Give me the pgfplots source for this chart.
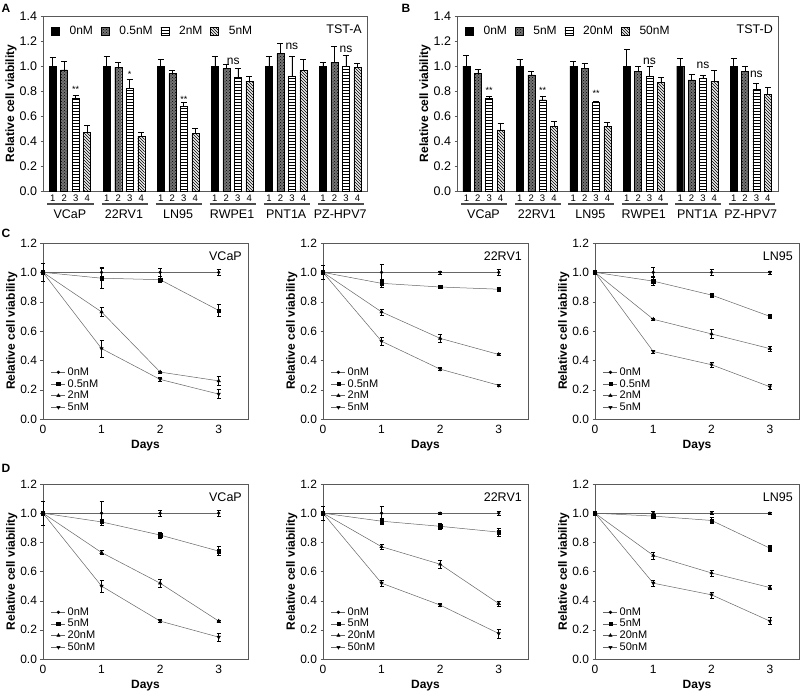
\documentclass[border=0pt]{standalone}
\usepackage{fontspec}
\setmainfont{Liberation Sans}
\usepackage{pgfplots}
\pgfplotsset{compat=1.18}
\usetikzlibrary{patterns}

\pgfplotsset{
  common/.style={
    scale only axis, anchor=south west, clip=false,
    /pgf/number format/assume math mode=true,
    axis line style={black!65, line width=0.7pt},
    tick align=outside, ytick pos=left, xtick pos=bottom,
    major tick length=2.5pt, tick style={black!65},
    xtick style={draw=none},
    ylabel={Relative cell viability},
    label style={font=\bfseries\fontsize{12}{12}\selectfont},
    ylabel style={yshift=-4pt},
  },
  barax/.style={
    common, height=175pt,
    ybar, bar width=7pt, bar shift=0pt,
    ymin=0, ymax=1.4,
    ytick={0,0.2,0.4,0.6,0.8,1.0,1.2,1.4},
    y tick label style={font=\fontsize{12.5}{13}\selectfont, /pgf/number format/fixed, /pgf/number format/fixed zerofill, /pgf/number format/precision=1},
    xtick={0,1,2,3,4.7,5.7,6.7,7.7,9.4,10.4,11.4,12.4,14.1,15.1,16.1,17.1,18.8,19.8,20.8,21.8,23.5,24.5,25.5,26.5},
    xticklabels={1,2,3,4,1,2,3,4,1,2,3,4,1,2,3,4,1,2,3,4,1,2,3,4},
    x tick label style={font=\fontsize{9.5}{9.5}\selectfont, inner sep=1.5pt},
    legend style={at={(0,1)}, anchor=north west, xshift=5pt, yshift=-6pt, draw=none, fill=none,
      font=\fontsize{12}{12}\selectfont,
      /tikz/every even column/.append style={column sep=6pt},
      /tikz/every odd column/.append style={column sep=8pt}},
    legend columns=4,
    legend image code/.code={\draw[#1] (0pt,-4pt) rectangle (8pt,4pt);},
  },
  b0/.style={fill=black, draw=black, bar shift=0pt},
  b1/.style={fill=black!55, draw=black, bar shift=0pt, postaction={pattern=crosshatch dots, pattern color=black}},
  b2/.style={fill=white, draw=black, bar shift=0pt, postaction={pattern=horizontal lines}},
  b3/.style={fill=black!8, draw=black, bar shift=0pt, postaction={pattern=north west lines}},
  errb/.style={error bars/y dir=plus, error bars/y explicit,
    error bars/error bar style={black, line width=0.6pt},
    error bars/error mark options={rotate=90, mark size=3pt, line width=0.6pt, black}},
  lineax/.style={
    common, height=176pt, width=205pt,
    xmin=0, xmax=3.5, ymin=0, ymax=1.2,
    xtick={0,1,2,3}, ytick={0,0.2,0.4,0.6,0.8,1.0,1.2},
    tick label style={font=\fontsize{12}{12}\selectfont},
    y tick label style={/pgf/number format/fixed, /pgf/number format/fixed zerofill, /pgf/number format/precision=1},
    xlabel={Days},
    legend style={at={(0,0)}, anchor=south west, xshift=5pt, yshift=3pt, draw=none, fill=none,
      font=\fontsize{11}{12}\selectfont, row sep=-1.5pt},
    legend cell align=left,
    legend image code/.code={\draw[mark repeat=2,mark phase=2,#1] plot coordinates {(0pt,0pt) (7pt,0pt) (14pt,0pt)};},
  },
  lbase/.style={black!60, line width=0.5pt,
    error bars/y dir=both, error bars/y explicit,
    error bars/error bar style={black, line width=0.5pt},
    error bars/error mark options={rotate=90, mark size=2pt, black, line width=0.5pt}},
  l0/.style={lbase, mark=*, mark size=1.4pt, mark options={black, fill=black}},
  l1/.style={lbase, mark=square*, mark size=1.7pt, mark options={black, fill=black}},
  l2/.style={lbase, mark=triangle*, mark size=1.9pt, mark options={black, fill=black}},
  l3/.style={lbase, mark=triangle*, mark size=1.9pt, mark options={black, fill=black, rotate=180}},
}

\newcommand{\grplabel}[4]{%
  \draw[black!70, line width=1.3pt] ([yshift=-13pt]axis cs:#1,0) -- ([yshift=-13pt]axis cs:#2,0);
  \node[anchor=base, font=\fontsize{12.5}{13}\selectfont, inner sep=0pt] at ([yshift=-27pt]axis cs:#3,0) {#4};
}
\newcommand{\allgroups}{%
  \grplabel{-0.45}{3.6}{1.5}{VCaP}
  \grplabel{4.25}{8.3}{6.2}{22RV1}
  \grplabel{8.95}{13.0}{10.9}{LN95}
  \grplabel{13.65}{17.7}{15.6}{RWPE1}
  \grplabel{18.35}{22.4}{20.3}{PNT1A}
  \grplabel{23.05}{27.1}{25.0}{PZ-HPV7}
}

\begin{document}
\begin{tikzpicture}
\path[use as bounding box] (0pt,0pt) rectangle (800pt,-691pt);

\node[font=\bfseries\fontsize{12}{12}\selectfont] at (6pt,-8pt) {A};
\node[font=\bfseries\fontsize{12}{12}\selectfont] at (406pt,-8pt) {B};
\node[font=\bfseries\fontsize{12}{12}\selectfont] at (6pt,-233pt) {C};
\node[font=\bfseries\fontsize{12}{12}\selectfont] at (6pt,-468pt) {D};

% ---------------- A ----------------
\begin{axis}[barax, at={(43pt,-191pt)}, width=324pt, xmin=-0.84, xmax=27.33]
\addplot[b0, errb] coordinates {(0,1.0)+-(0,0.07) (4.7,1.0)+-(0,0.08) (9.4,1.0)+-(0,0.05) (14.1,1.0)+-(0,0.075) (18.8,1.0)+-(0,0.075) (23.5,1.0)+-(0,0.03)};
\addplot[b1, errb] coordinates {(1,0.97)+-(0,0.065) (5.7,0.99)+-(0,0.04) (10.4,0.94)+-(0,0.025) (15.1,0.98)+-(0,0.03) (19.8,1.10)+-(0,0.08) (24.5,1.03)+-(0,0.125)};
\addplot[b2, errb] coordinates {(2,0.74)+-(0,0.025) (6.7,0.82)+-(0,0.07) (11.4,0.68)+-(0,0.03) (16.1,0.91)+-(0,0.07) (20.8,0.92)+-(0,0.155) (25.5,1.0)+-(0,0.088)};
\addplot[b3, errb] coordinates {(3,0.47)+-(0,0.055) (7.7,0.44)+-(0,0.03) (12.4,0.46)+-(0,0.04) (17.1,0.88)+-(0,0.035) (21.8,0.965)+-(0,0.09) (26.5,0.99)+-(0,0.03)};
\legend{0nM,0.5nM,2nM,5nM}
\node[anchor=north east, inner sep=0pt, font=\fontsize{12.5}{13}\selectfont] at ([xshift=-5pt,yshift=-9pt]rel axis cs:1,1) {TST-A};
\node[font=\fontsize{9}{9}\selectfont] at (axis cs:2,0.815) {**};
\node[font=\fontsize{9}{9}\selectfont] at (axis cs:6.7,0.935) {*};
\node[font=\fontsize{9}{9}\selectfont] at (axis cs:11.4,0.735) {**};
\node[font=\fontsize{12}{12}\selectfont] at (axis cs:15.7,1.04) {ns};
\node[font=\fontsize{12}{12}\selectfont] at (axis cs:20.8,1.155) {ns};
\node[font=\fontsize{12}{12}\selectfont] at (axis cs:25.5,1.136) {ns};
\allgroups
\end{axis}

% ---------------- B ----------------
\begin{axis}[barax, at={(457pt,-191pt)}, width=321pt, xmin=-0.83, xmax=27.4]
\addplot[b0, errb] coordinates {(0,1.0)+-(0,0.088) (4.7,1.0)+-(0,0.05) (9.4,1.0)+-(0,0.035) (14.1,1.0)+-(0,0.13) (18.8,1.0)+-(0,0.06) (23.5,1.0)+-(0,0.06)};
\addplot[b1, errb] coordinates {(1,0.94)+-(0,0.03) (5.7,0.93)+-(0,0.03) (10.4,0.98)+-(0,0.04) (15.1,0.96)+-(0,0.035) (19.8,0.89)+-(0,0.045) (24.5,0.955)+-(0,0.045)};
\addplot[b2, errb] coordinates {(2,0.74)+-(0,0.02) (6.7,0.73)+-(0,0.025) (11.4,0.71)+-(0,0.01) (16.1,0.92)+-(0,0.08) (20.8,0.90)+-(0,0.025) (25.5,0.816)+-(0,0.045)};
\addplot[b3, errb] coordinates {(3,0.49)+-(0,0.05) (7.7,0.52)+-(0,0.035) (12.4,0.52)+-(0,0.03) (17.1,0.87)+-(0,0.04) (21.8,0.875)+-(0,0.093) (26.5,0.774)+-(0,0.055)};
\legend{0nM,5nM,20nM,50nM}
\node[anchor=north east, inner sep=0pt, font=\fontsize{12.5}{13}\selectfont] at ([xshift=-5pt,yshift=-9pt]rel axis cs:1,1) {TST-D};
\node[font=\fontsize{9}{9}\selectfont] at (axis cs:2,0.805) {**};
\node[font=\fontsize{9}{9}\selectfont] at (axis cs:6.7,0.805) {**};
\node[font=\fontsize{9}{9}\selectfont] at (axis cs:11.4,0.78) {**};
\node[font=\fontsize{12}{12}\selectfont] at (axis cs:16.1,1.04) {ns};
\node[font=\fontsize{12}{12}\selectfont] at (axis cs:20.8,1.008) {ns};
\node[font=\fontsize{12}{12}\selectfont] at (axis cs:25.5,0.936) {ns};
\allgroups
\end{axis}

% ---------------- C ----------------
\begin{axis}[lineax, at={(43pt,-419pt)}]
\addplot[l0] coordinates {(0,1)+-(0,0.06) (1,1)+-(0,0.035) (2,1)+-(0,0.025) (3,1)+-(0,0.02)};
\addplot[l1] coordinates {(0,1)+-(0,0.01) (1,0.96)+-(0,0.07) (2,0.95)+-(0,0.02) (3,0.74)+-(0,0.04)};
\addplot[l2] coordinates {(0,1)+-(0,0.01) (1,0.73)+-(0,0.03) (2,0.32)+-(0,0.005) (3,0.26)+-(0,0.03)};
\addplot[l3] coordinates {(0,1)+-(0,0.01) (1,0.48)+-(0,0.06) (2,0.27)+-(0,0.015) (3,0.17)+-(0,0.03)};
\legend{0nM,0.5nM,2nM,5nM}
\node[anchor=north east, inner sep=0pt, font=\fontsize{12.5}{13}\selectfont] at ([xshift=-6pt,yshift=-8.5pt]rel axis cs:1,1) {VCaP};
\end{axis}

\begin{axis}[lineax, at={(323pt,-419pt)}]
\addplot[l0] coordinates {(0,1)+-(0,0.05) (1,1)+-(0,0.055) (2,1)+-(0,0.01) (3,1)+-(0,0.02)};
\addplot[l1] coordinates {(0,1)+-(0,0.01) (1,0.925)+-(0,0.03) (2,0.90)+-(0,0.01) (3,0.885)+-(0,0.01)};
\addplot[l2] coordinates {(0,1)+-(0,0.01) (1,0.73)+-(0,0.02) (2,0.55)+-(0,0.03) (3,0.44)+-(0,0.005)};
\addplot[l3] coordinates {(0,1)+-(0,0.01) (1,0.53)+-(0,0.025) (2,0.34)+-(0,0.01) (3,0.23)+-(0,0.005)};
\legend{0nM,0.5nM,2nM,5nM}
\node[anchor=north east, inner sep=0pt, font=\fontsize{12.5}{13}\selectfont] at ([xshift=-6pt,yshift=-8.5pt]rel axis cs:1,1) {22RV1};
\end{axis}

\begin{axis}[lineax, at={(595pt,-419pt)}, width=204pt]
\addplot[l0] coordinates {(0,1)+-(0,0.01) (1,1)+-(0,0.035) (2,1)+-(0,0.02) (3,1)+-(0,0.01)};
\addplot[l1] coordinates {(0,1)+-(0,0.01) (1,0.94)+-(0,0.03) (2,0.845)+-(0,0.01) (3,0.70)+-(0,0.015)};
\addplot[l2] coordinates {(0,1)+-(0,0.01) (1,0.68)+-(0,0.01) (2,0.58)+-(0,0.03) (3,0.48)+-(0,0.015)};
\addplot[l3] coordinates {(0,1)+-(0,0.01) (1,0.46)+-(0,0.01) (2,0.37)+-(0,0.015) (3,0.22)+-(0,0.02)};
\legend{0nM,0.5nM,2nM,5nM}
\node[anchor=north east, inner sep=0pt, font=\fontsize{12.5}{13}\selectfont] at ([xshift=-6pt,yshift=-8.5pt]rel axis cs:1,1) {LN95};
\end{axis}

% ---------------- D ----------------
\begin{axis}[lineax, at={(43pt,-659pt)}, height=175pt]
\addplot[l0] coordinates {(0,1)+-(0,0.08) (1,1)+-(0,0.08) (2,1)+-(0,0.02) (3,1)+-(0,0.02)};
\addplot[l1] coordinates {(0,1)+-(0,0.01) (1,0.94)+-(0,0.02) (2,0.85)+-(0,0.02) (3,0.74)+-(0,0.03)};
\addplot[l2] coordinates {(0,1)+-(0,0.01) (1,0.73)+-(0,0.015) (2,0.52)+-(0,0.025) (3,0.26)+-(0,0.005)};
\addplot[l3] coordinates {(0,1)+-(0,0.01) (1,0.50)+-(0,0.04) (2,0.26)+-(0,0.01) (3,0.15)+-(0,0.025)};
\legend{0nM,5nM,20nM,50nM}
\node[anchor=north east, inner sep=0pt, font=\fontsize{12.5}{13}\selectfont] at ([xshift=-6pt,yshift=-8.5pt]rel axis cs:1,1) {VCaP};
\end{axis}

\begin{axis}[lineax, at={(323pt,-659pt)}, height=175pt]
\addplot[l0] coordinates {(0,1)+-(0,0.05) (1,1)+-(0,0.05) (2,1)+-(0,0.005) (3,1)+-(0,0.015)};
\addplot[l1] coordinates {(0,1)+-(0,0.01) (1,0.945)+-(0,0.02) (2,0.91)+-(0,0.02) (3,0.87)+-(0,0.025)};
\addplot[l2] coordinates {(0,1)+-(0,0.01) (1,0.77)+-(0,0.02) (2,0.65)+-(0,0.025) (3,0.38)+-(0,0.015)};
\addplot[l3] coordinates {(0,1)+-(0,0.01) (1,0.52)+-(0,0.02) (2,0.37)+-(0,0.01) (3,0.175)+-(0,0.03)};
\legend{0nM,5nM,20nM,50nM}
\node[anchor=north east, inner sep=0pt, font=\fontsize{12.5}{13}\selectfont] at ([xshift=-6pt,yshift=-8.5pt]rel axis cs:1,1) {22RV1};
\end{axis}

\begin{axis}[lineax, at={(595pt,-659pt)}, height=175pt, width=204pt]
\addplot[l0] coordinates {(0,1)+-(0,0.01) (1,1)+-(0,0.01) (2,1)+-(0,0.01) (3,1)+-(0,0.005)};
\addplot[l1] coordinates {(0,1)+-(0,0.01) (1,0.98)+-(0,0.015) (2,0.95)+-(0,0.02) (3,0.76)+-(0,0.02)};
\addplot[l2] coordinates {(0,1)+-(0,0.01) (1,0.71)+-(0,0.025) (2,0.59)+-(0,0.02) (3,0.49)+-(0,0.015)};
\addplot[l3] coordinates {(0,1)+-(0,0.01) (1,0.52)+-(0,0.02) (2,0.44)+-(0,0.02) (3,0.26)+-(0,0.025)};
\legend{0nM,5nM,20nM,50nM}
\node[anchor=north east, inner sep=0pt, font=\fontsize{12.5}{13}\selectfont] at ([xshift=-6pt,yshift=-8.5pt]rel axis cs:1,1) {LN95};
\end{axis}

\end{tikzpicture}
\end{document}
